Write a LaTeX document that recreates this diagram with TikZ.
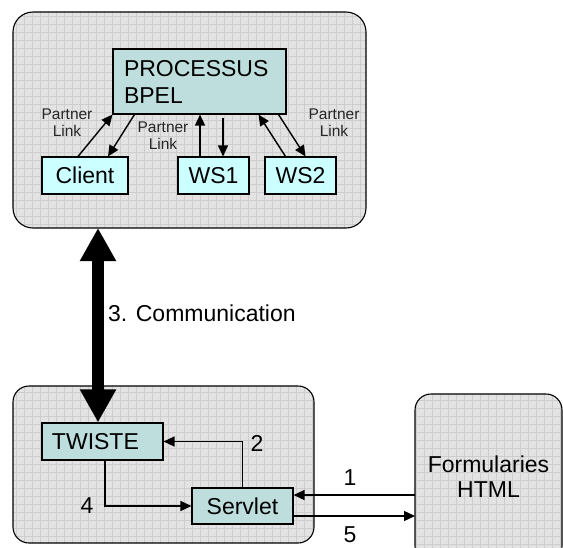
\documentclass[tikz,border=0pt]{standalone}
\usepackage{fontspec}
\setmainfont{Liberation Sans}
\usetikzlibrary{arrows.meta,calc}

\definecolor{panelbase}{HTML}{E3E3E3}
\definecolor{panelgrid}{HTML}{CDCDCD}
\definecolor{procfill}{HTML}{BEDEDE}
\definecolor{partfill}{HTML}{CCFFFF}

\tikzset{
  panel/.style={draw=black, line width=1.1pt},
  procbox/.style={draw=black, line width=1.1pt, fill=procfill, inner sep=0pt,
    font=\fontsize{23}{27}\selectfont},
  partbox/.style={draw=black, line width=1.1pt, fill=partfill, inner sep=0pt,
    font=\fontsize{23}{25}\selectfont},
  lbl/.style={font=\fontsize{23}{25}\selectfont, inner sep=0pt},
  plink/.style={font=\fontsize{15.5}{17}\selectfont, align=center, inner sep=0pt, text=black!85},
  arr/.style={line width=1.4pt, -{Triangle[length=11pt,width=10pt]}},
  bigarr/.style={line width=12pt, {Triangle[length=33pt,width=34pt]}-{Triangle[length=33pt,width=34pt]}},
}

% textured rounded panel: light grey with a fine grid
\newcommand{\gridpanel}[5]{%
  \begin{scope}
    \clip[rounded corners=#5] (#1,#2) rectangle (#3,#4);
    \fill[panelbase] (#1,#2) rectangle (#3,#4);
    \draw[panelgrid, line width=0.6pt, xstep=8pt, ystep=8pt] (#1,#2) grid (#3,#4);
  \end{scope}
  \draw[panel, rounded corners=#5] (#1,#2) rectangle (#3,#4);
}

\begin{document}
\begin{tikzpicture}[x=1pt, y=-1pt]
  \useasboundingbox (0,0) rectangle (563,547);
  \clip (0,0) rectangle (563,547);
  \fill[white] (0,0) rectangle (563,547);

  % panels
  \gridpanel{13}{12}{366}{228}{20pt}
  \gridpanel{13}{386}{314}{543}{16pt}
  \gridpanel{415}{394}{562}{562}{16pt}

  % BPEL process and its partners
  \node[procbox, minimum width=173pt, minimum height=65pt, text width=151pt, align=left]
    (proc) at (199.5,81.5) {PROCESSUS\\BPEL};
  \node[partbox, minimum width=86pt, minimum height=37pt] (client) at (85,175.5) {Client};
  \node[partbox, minimum width=71pt, minimum height=37pt] (ws1) at (213.5,175.5) {WS1};
  \node[partbox, minimum width=71pt, minimum height=37pt] (ws2) at (300.5,175.5) {WS2};

  \node[plink] (pl1) at (67,123) {Partner\\Link};
  \node[plink] (pl2) at (163,136) {Partner\\Link};
  \node[plink] (pl3) at (334,123) {Partner\\Link};

  \draw[arr] ([xshift=-7pt]client.north) -- (proc.south west);
  \draw[arr] ([xshift=22pt]proc.south west) -- ([xshift=23pt]client.north);
  \draw[arr] ([xshift=-13.5pt]ws1.north) -- ([xshift=-13.5pt]ws1.north |- proc.south);
  \draw[arr] ([xshift=9.5pt,yshift=-3pt]ws1.north |- proc.south) -- ([xshift=9.5pt]ws1.north);
  \draw[arr] ([xshift=-15pt]ws2.north) -- ([xshift=-28pt]proc.south east);
  \draw[arr] ([xshift=-8pt]proc.south east) -- ([xshift=5pt]ws2.north);

  % TWISTE side
  \node[procbox, minimum width=121pt, minimum height=37pt, text width=101pt, align=left]
    (twiste) at (102.5,441.5) {TWISTE};
  \node[procbox, minimum width=101pt, minimum height=36pt] (servlet) at (242.5,506) {Servlet};

  \coordinate (topbot) at (98,228);
  \draw[bigarr] (topbot) -- (topbot |- twiste.north);
  \node[lbl, anchor=west] (comm) at (108,313) {3. Communication};

  \draw[arr] (servlet.north) |- (twiste.east);
  \draw[arr] ([xshift=2.5pt]twiste.south) |- (servlet.west);
  \node[lbl] (n2) at (257,443) {2};
  \node[lbl] (n4) at (87,506) {4};

  % HTML forms
  \node[lbl, align=center] (form) at (488.5,477) {Formularies\\HTML};
  \coordinate (formw) at (415,477);
  \draw[arr] ([yshift=11pt]servlet.east -| formw) -- ([yshift=11pt]servlet.east);
  \draw[arr] ([yshift=-10pt]servlet.east) -- ([yshift=-10pt]servlet.east -| formw);
  \node[lbl] (n1) at (350,478) {1};
  \node[lbl] (n5) at (350,535) {5};
\end{tikzpicture}
\end{document}
